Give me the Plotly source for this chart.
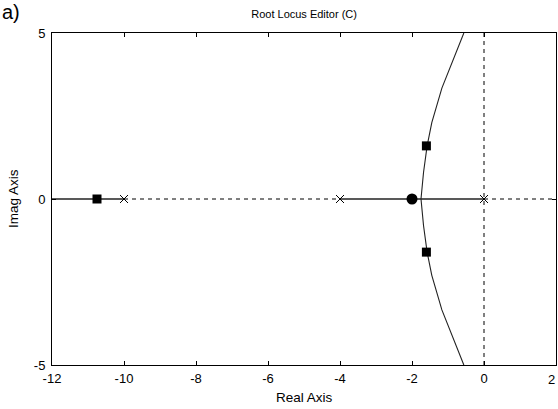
import plotly.graph_objects as go

# Data
open_loop_poles = [0, -4, -10]
zeros = [-2]
cl_poles_re = [-10.75, -1.6, -1.6]
cl_poles_im = [0, 1.6, -1.6]
# Real-axis locus segments
solid_real_segments = [(-12, -10), (-4, 0)]
dashed_real_segments = [(-10, -4), (0, 2)]
# Complex branch (upper half); lower is mirror image
branch_re = [-1.75, -1.68, -1.58, -1.45, -1.17, -0.9, -0.56]
branch_im = [0.0, 0.8, 1.6, 2.3, 3.34, 4.1, 5.0]

x_ticks = [-12, -10, -8, -6, -4, -2, 0]
y_ticks = [-5, 0, 5]
last_x_tick = "2"

fig = go.Figure()
line_col = "#222222"

for a, b in dashed_real_segments:
    fig.add_trace(go.Scatter(x=[a, b], y=[0, 0], mode="lines",
                             line=dict(color="black", width=1, dash="4px,4px"), showlegend=False))
fig.add_trace(go.Scatter(x=[0, 0], y=[-5, 5], mode="lines",
                         line=dict(color="black", width=1, dash="4px,4px"), showlegend=False))
for a, b in solid_real_segments:
    fig.add_trace(go.Scatter(x=[a, b], y=[0, 0], mode="lines",
                             line=dict(color=line_col, width=1.3), showlegend=False))
fig.add_trace(go.Scatter(x=branch_re, y=branch_im, mode="lines",
                         line=dict(color=line_col, width=1.1), showlegend=False))
fig.add_trace(go.Scatter(x=branch_re, y=[-v for v in branch_im], mode="lines",
                         line=dict(color=line_col, width=1.1), showlegend=False))

fig.add_trace(go.Scatter(x=open_loop_poles, y=[0] * len(open_loop_poles), mode="markers",
                         marker=dict(symbol="x-thin", size=8, line=dict(color="black", width=1)),
                         showlegend=False))
fig.add_trace(go.Scatter(x=zeros, y=[0] * len(zeros), mode="markers",
                         marker=dict(symbol="circle", size=11, color="black"), showlegend=False))
fig.add_trace(go.Scatter(x=cl_poles_re, y=cl_poles_im, mode="markers",
                         marker=dict(symbol="square", size=9, color="black"), showlegend=False))

font = dict(family="Liberation Sans, Arial, sans-serif", size=13, color="black")
W, L, T, B = 504, 52, 33, 365
H = B - T
fig.update_layout(
    width=558, height=409,
    margin=dict(l=52, r=2, t=33, b=44),
    plot_bgcolor="white", paper_bgcolor="white",
    font=font,
    title=dict(text="Root Locus Editor (C)", x=0.545, xanchor="center", y=0.965, yanchor="middle",
               font=dict(size=11)),
    xaxis=dict(range=[-12, 2], tickvals=x_ticks + [2], ticktext=[str(v) for v in x_ticks] + [""],
               showgrid=False, zeroline=False, showline=True, linecolor="black", linewidth=1,
               mirror="ticks", ticks="inside", ticklen=4, tickcolor="black",
               tickfont=dict(size=13), ticklabelstandoff=1),
    yaxis=dict(range=[-5, 5], tickvals=y_ticks, ticktext=[str(v) for v in y_ticks],
               showgrid=False, zeroline=False, showline=True, linecolor="black", linewidth=1,
               mirror="ticks", ticks="inside", ticklen=4, tickcolor="black",
               tickfont=dict(size=13), ticklabelstandoff=3),
    annotations=[
        dict(text="a)", x=(11 - L) / W, y=(B - 12) / H, xref="paper", yref="paper",
             showarrow=False, xanchor="center", yanchor="middle", font=dict(size=20)),
        dict(text="Real Axis", x=(304 - L) / W, y=(B - 397) / H, xref="paper", yref="paper",
             showarrow=False, xanchor="center", yanchor="middle", font=dict(size=13.5)),
        dict(text="Imag Axis", x=(13 - L) / W, y=(B - 199) / H, xref="paper", yref="paper",
             showarrow=False, xanchor="center", yanchor="middle", textangle=-90,
             font=dict(size=13.5)),
        dict(text=last_x_tick, x=(557 - L) / W, y=(B - 379) / H, xref="paper", yref="paper",
             showarrow=False, xanchor="right", yanchor="middle", font=dict(size=13)),
    ],
)
fig.write_html("out.html")
